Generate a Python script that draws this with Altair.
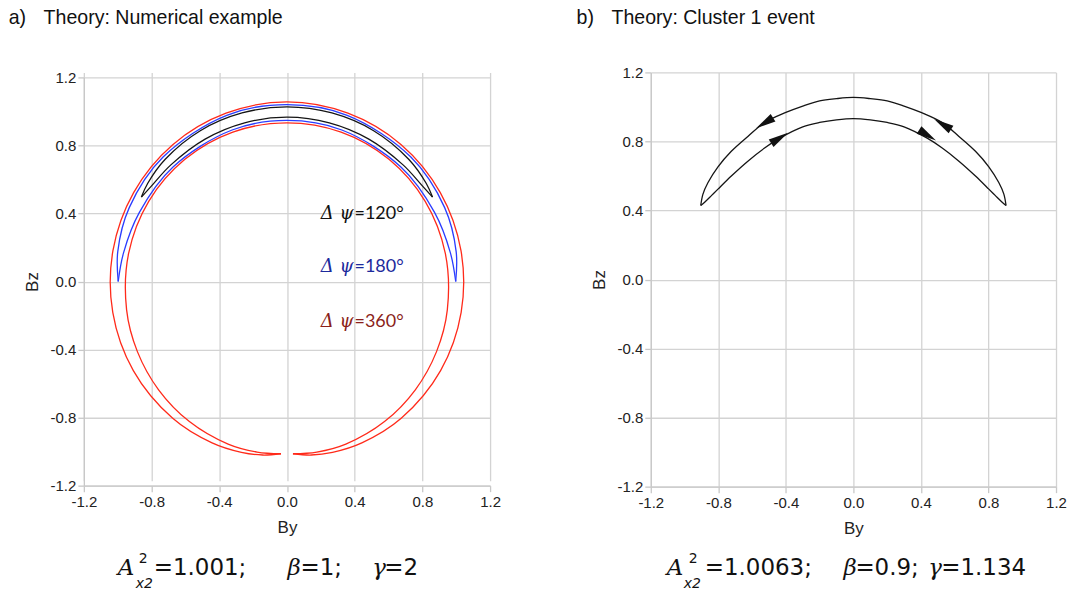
import altair as alt
import numpy as np
import pandas as pd

TICKS = [-1.2, -0.8, -0.4, 0.0, 0.4, 0.8, 1.2]

# ---------------- Panel a: read as (angle from +Bz axis in degrees, radius) ----------------
red_out_phi = [-178, -172, -165, -155, -140, -120, -100, -80, -60, -40, -20, 0,
               20, 40, 60, 80, 100, 120, 140, 155, 165, 172, 178]
red_out_r = [1.013, 1.03, 1.04, 1.047, 1.05, 1.048, 1.045, 1.044, 1.046, 1.05, 1.053, 1.056,
             1.053, 1.05, 1.046, 1.044, 1.045, 1.048, 1.05, 1.047, 1.04, 1.03, 1.013]
red_in_phi = [-178, -170, -160, -145, -130, -115, -100, -80, -60, -40, -20, 0,
              20, 40, 60, 80, 100, 115, 130, 145, 160, 170, 178]
red_in_r = [1.013, 1.018, 1.017, 1.005, 0.99, 0.975, 0.962, 0.95, 0.943, 0.938, 0.935, 0.933,
            0.935, 0.938, 0.943, 0.95, 0.962, 0.975, 0.99, 1.005, 1.017, 1.018, 1.013]

blue_phi = [-90, -80, -65, -45, -20, 0, 20, 45, 65, 80, 90]
blue_out_r = [0.997, 1.015, 1.028, 1.035, 1.04, 1.04, 1.04, 1.035, 1.028, 1.015, 0.997]
blue_in_r = [0.997, 0.98, 0.962, 0.952, 0.948, 0.947, 0.948, 0.952, 0.962, 0.98, 0.997]

black_phi = [-60, -55, -45, -30, -15, 0, 15, 30, 45, 55, 60]
black_out_r = [0.993, 1.005, 1.017, 1.024, 1.026, 1.027, 1.026, 1.024, 1.017, 1.005, 0.993]
black_in_r = [0.993, 0.978, 0.97, 0.967, 0.966, 0.966, 0.966, 0.967, 0.97, 0.978, 0.993]

ann_pre = ["Δ ψ", "Δ ψ", "Δ ψ"]
ann_post = ["=120°", "=180°", "=360°"]
ann_x = [0.399, 0.399, 0.399]
ann_y = [0.398, 0.086, -0.236]
ann_color = ["#111111", "#1c2a9c", "#8b1f1a"]

# ---------------- Panel b: Cluster 1 event (By, Bz) ----------------
b_out_x = [-0.904, -0.891, -0.861, -0.802, -0.723, -0.625, -0.526, -0.4, -0.3, -0.2, -0.1, 0.0,
           0.1, 0.2, 0.3, 0.4, 0.526, 0.625, 0.723, 0.802, 0.861, 0.891, 0.904]
b_out_y = [0.429, 0.495, 0.562, 0.653, 0.743, 0.829, 0.909, 0.968, 1.005, 1.035, 1.048, 1.055,
           1.048, 1.035, 1.005, 0.968, 0.909, 0.829, 0.743, 0.653, 0.562, 0.495, 0.429]
b_in_x = [-0.904, -0.881, -0.841, -0.802, -0.723, -0.625, -0.526, -0.437, -0.3, -0.2, -0.1, 0.0,
          0.1, 0.2, 0.3, 0.437, 0.526, 0.625, 0.723, 0.802, 0.841, 0.881, 0.904]
b_in_y = [0.429, 0.448, 0.486, 0.524, 0.6, 0.686, 0.762, 0.819, 0.885, 0.91, 0.925, 0.932,
          0.925, 0.91, 0.885, 0.819, 0.762, 0.686, 0.6, 0.524, 0.486, 0.448, 0.429]
arrow_x = [-0.526, -0.437, 0.439, 0.528]
arrow_y = [0.907, 0.82, 0.836, 0.9]
arrow_angle = [238, 58, 122, 302]

FONT = "Liberation Sans"
MATH = "DejaVu Sans"
MATH_IT = "DejaVu Serif"
ANN = "Lato"


def polar_path(phi, r, name):
    ph = np.radians(np.array(phi, dtype=float))
    rr = np.array(r, dtype=float)
    return pd.DataFrame({"By": rr * np.sin(ph), "Bz": rr * np.cos(ph),
                         "ord": np.arange(len(phi)), "path": name})


def xy_path(xs, ys, name):
    return pd.DataFrame({"By": xs, "Bz": ys, "ord": np.arange(len(xs)), "path": name})


LABEL_EXPR = "datum.value < 0 ? '-' + format(-datum.value, '.1f') : format(datum.value, '.1f')"
xscale = alt.Scale(domain=[-1.2, 1.2], nice=False, zero=False)
x_axis = alt.Axis(values=TICKS, labelExpr=LABEL_EXPR, title="By", labelFlush=False,
                  labelOverlap=False, tickSize=6, labelPadding=3, titlePadding=10)
y_axis = alt.Axis(values=TICKS, labelExpr=LABEL_EXPR, title="Bz", labelFlush=False,
                  labelOverlap=False, tickSize=6, labelPadding=2, titlePadding=9)


def make_lines(df, color, yscale, width=1.3):
    return alt.Chart(df).mark_line(color=color, strokeWidth=width, interpolate="catmull-rom").encode(
        x=alt.X("By:Q", scale=xscale, axis=x_axis),
        y=alt.Y("Bz:Q", scale=yscale, axis=y_axis),
        detail="path:N",
        order="ord:Q",
    )


def label(text, x, y, size, italic=False, align="left", font=MATH, color="#111111"):
    return alt.Chart(pd.DataFrame({"t": [text]})).mark_text(
        align=align, baseline="alphabetic", font=font, fontSize=size,
        fontStyle="italic" if italic else "normal", color=color,
    ).encode(text="t:N", x=alt.value(x), y=alt.value(y))


BASE, SUP, SUB = 503.7, 491.7, 516.7


def formula(pieces):
    out = []
    for txt, x, kind in pieces:
        if kind == "sup":
            out.append(label(txt, x, SUP, 14))
        elif kind == "sub":
            out.append(label(txt, x, SUB, 14, italic=True))
        elif kind == "it":
            out.append(label(txt, x, BASE, 23, italic=True, font=MATH_IT))
        else:
            out.append(label(txt, x, BASE, 23))
    return out


def titles(letter, text, x0):
    return [label(letter, x0, -48.3, 19.6, font=FONT), label(text, x0 + 35, -48.3, 19.6, font=FONT)]


# ---------- Panel a (plot area 5 px lower than panel b) ----------
yscale_a = alt.Scale(domain=[-1.2, 1.2], nice=False, zero=False, range=[414, 5])
red = pd.concat([polar_path(red_out_phi, red_out_r, "ro"), polar_path(red_in_phi, red_in_r, "ri")])
blue = pd.concat([polar_path(blue_phi, blue_out_r, "bo"), polar_path(blue_phi, blue_in_r, "bi")])
black = pd.concat([polar_path(black_phi, black_out_r, "ko"), polar_path(black_phi, black_in_r, "ki")])

ann = pd.DataFrame({"pre": ann_pre, "post": ann_post, "x": ann_x, "y": ann_y, "c": ann_color})
ann_pre_layer = alt.Chart(ann).mark_text(align="right", baseline="middle", font=MATH_IT, fontSize=18,
                                         fontStyle="italic", dx=-1).encode(
    x=alt.X("x:Q", scale=xscale), y=alt.Y("y:Q", scale=yscale_a), text="pre:N",
    color=alt.Color("c:N", scale=None))
ann_post_layer = alt.Chart(ann).mark_text(align="left", baseline="middle", font=ANN, fontSize=18).encode(
    x=alt.X("x:Q", scale=xscale), y=alt.Y("y:Q", scale=yscale_a), text="post:N",
    color=alt.Color("c:N", scale=None))

pieces_a = [("A", 34, "it"), ("2", 55, "sup"), ("x2", 52, "sub"), ("=1.001;", 70, "n"),
            ("β", 204, "it"), ("=1;", 217, "n"), ("γ", 289, "it"), ("=2", 301, "n")]
panel_a = alt.layer(
    make_lines(red, "#ff2a1a", yscale_a), make_lines(blue, "#2a3cff", yscale_a),
    make_lines(black, "#151515", yscale_a),
    ann_pre_layer, ann_post_layer,
    *titles("a)", "Theory: Numerical example", -75.3),
    *formula(pieces_a),
).properties(width=407, height=414)

# ---------- Panel b ----------
yscale_b = alt.Scale(domain=[-1.2, 1.2], nice=False, zero=False)
crescent = pd.concat([xy_path(b_out_x, b_out_y, "o"), xy_path(b_in_x, b_in_y, "i")])
arrows = pd.DataFrame({"By": arrow_x, "Bz": arrow_y, "a": arrow_angle})
arrow_layer = alt.Chart(arrows).mark_point(
    shape="M0,-1L0.45,1L-0.45,1Z", filled=True, color="#111111", size=400, opacity=1
).encode(x=alt.X("By:Q", scale=xscale), y=alt.Y("Bz:Q", scale=yscale_b),
         angle=alt.Angle("a:Q", scale=None))

pieces_b = [("A", 16, "it"), ("2", 38, "sup"), ("x2", 33, "sub"), ("=1.0063;", 54, "n"),
            ("β", 193, "it"), ("=0.9;", 205, "n"), ("γ", 278, "it"), ("=1.134", 291, "n")]
panel_b = alt.layer(
    make_lines(crescent, "#151515", yscale_b, 1.3), arrow_layer,
    *titles("b)", "Theory: Cluster 1 event", -74.3),
    *formula(pieces_b),
).properties(width=406, height=415)

chart = alt.hconcat(panel_a, panel_b, spacing=75).properties(
    padding={"left": 8, "top": 7, "right": 0, "bottom": 0}
).configure_view(stroke=None).configure_axis(
    grid=True, gridColor="#d3d3d3", gridWidth=1.3,
    domainColor="#c8c8c8", domainWidth=1.3, tickColor="#c8c8c8", tickWidth=1.3,
    labelFont=FONT, labelFontSize=15, labelColor="#222222",
    titleFont=FONT, titleFontSize=17, titleFontWeight="normal", titleColor="#222222",
)

chart.save("out.html", embed_options={"renderer": "svg", "actions": False})
